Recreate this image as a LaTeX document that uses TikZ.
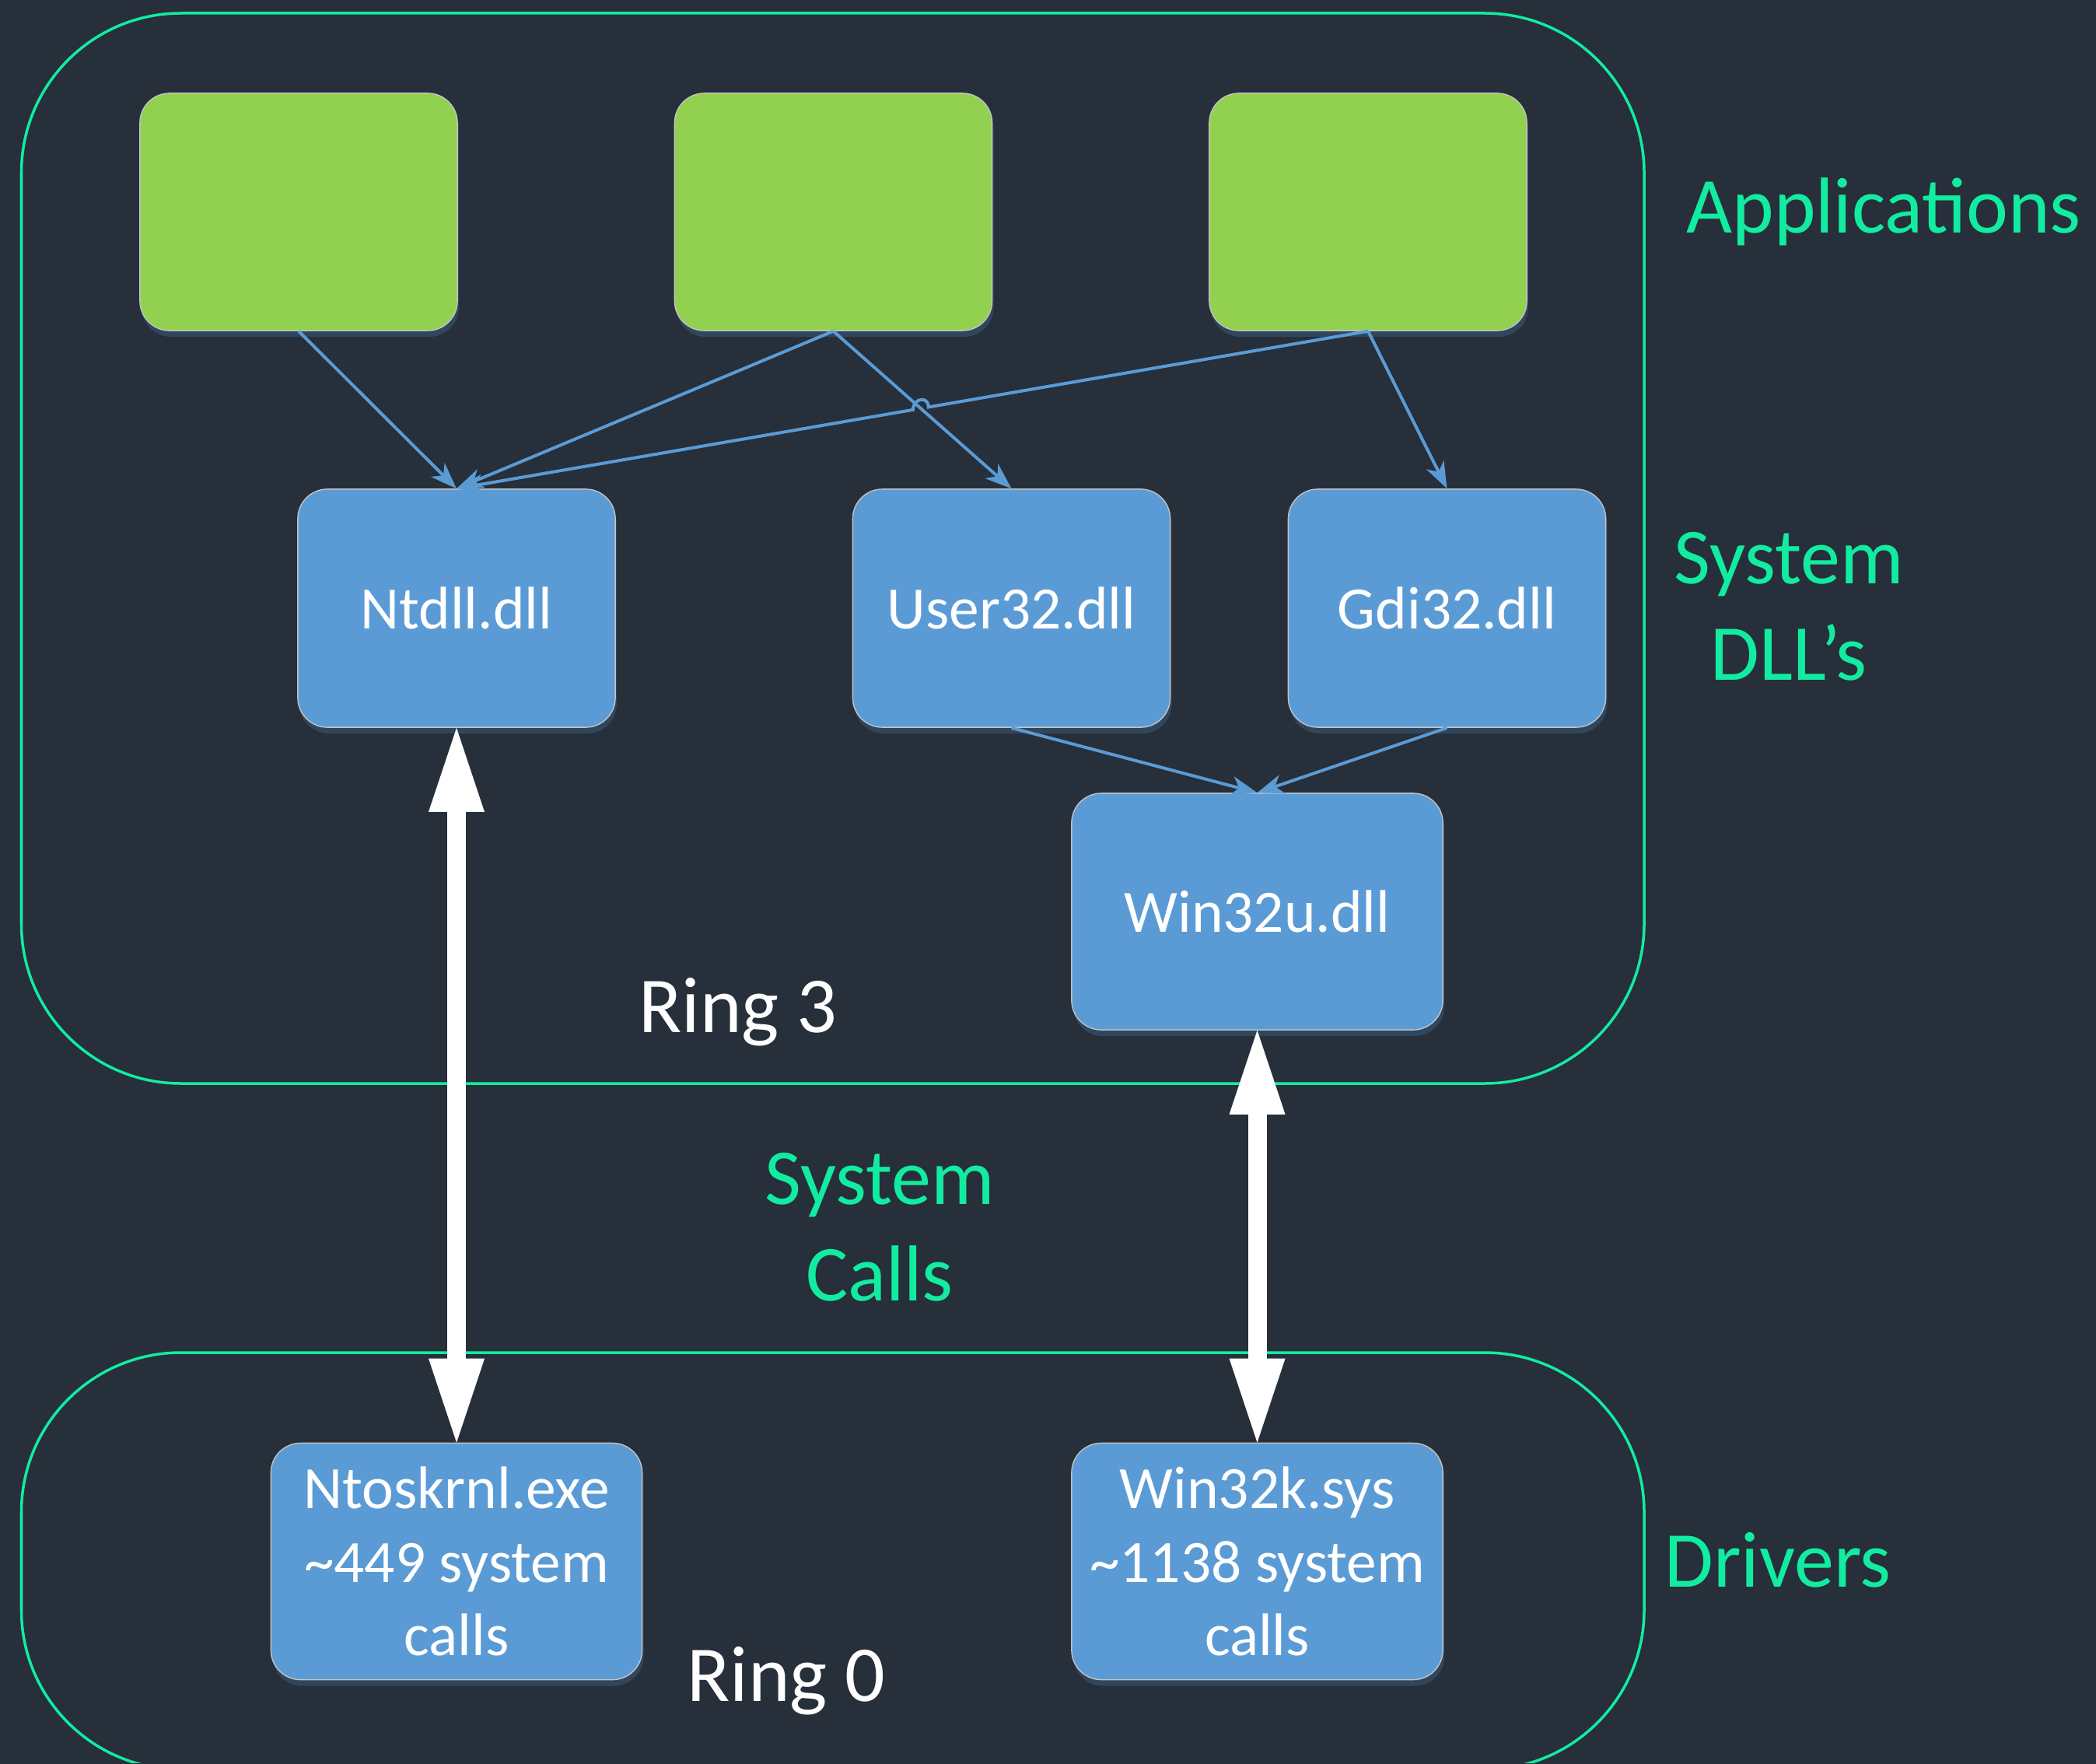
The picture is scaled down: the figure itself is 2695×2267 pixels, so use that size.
\documentclass[tikz,border=0pt]{standalone}
\usepackage{fontspec}
\setmainfont{Carlito}
\usetikzlibrary{arrows.meta,calc,shadows}
\definecolor{bgc}{RGB}{38,47,58}
\definecolor{ringc}{RGB}{18,236,160}
\definecolor{appgreen}{RGB}{146,208,80}
\definecolor{dllblue}{RGB}{91,155,213}
\definecolor{shadowc}{RGB}{48,70,92}
\definecolor{edgegray}{RGB}{195,195,195}
\begin{document}
\begin{tikzpicture}[x=0.01cm,y=-0.01cm,
  box/.style={draw=edgegray, line width=0.4pt, rounded corners=0.38cm, inner sep=0pt,
    drop shadow={shadow xshift=0.02cm, shadow yshift=-0.08cm, fill=shadowc, opacity=1}},
  app/.style={box, fill=appgreen, minimum width=4.08cm, minimum height=3.05cm},
  dll/.style={box, fill=dllblue, text=white, font=\fontsize{22}{26.8}\selectfont,
    align=center, minimum width=4.08cm, minimum height=3.06cm},
  widebox/.style={dll, minimum width=4.77cm, minimum height=3.04cm},
  ring/.style={draw=ringc, line width=0.035cm, rounded corners=2.05cm},
  lbl/.style={text=ringc, font=\fontsize{29}{35.4}\selectfont, align=center, inner sep=0pt},
  ringlbl/.style={text=white, font=\fontsize{29}{35.4}\selectfont, inner sep=0pt},
  link/.style={draw=dllblue, line width=0.04cm, -{Stealth[length=0.34cm,width=0.25cm,inset=0.1cm]}},
  syscall/.style={draw=white, line width=0.24cm,
    {Triangle[length=1.08cm,width=0.72cm,line width=0pt]}-{Triangle[length=1.08cm,width=0.72cm,line width=0pt]}}
]
\useasboundingbox (0,0) rectangle (2695,2267);
\fill[bgc] (-20,-20) rectangle (2715,2287);

% rings
\draw[ring] (27.5,17) rectangle (2114,1393);
\begin{scope}
\clip (-20,-20) rectangle (2715,2266);
\draw[ring] (27.5,1739) rectangle (2114,2275);
\end{scope}

% applications
\node[app] (app1) at (384,272.5) {};
\node[app] (app2) at (1071.5,272.5) {};
\node[app] (app3) at (1759,272.5) {};

% system dlls
\node[dll] (ntdll) at (587,782) {Ntdll.dll};
\node[dll] (user32) at (1300.5,782) {User32.dll};
\node[dll] (gdi32) at (1860.5,782) {Gdi32.dll};
\node[widebox] (win32u) at (1616.5,1172) {Win32u.dll};

% kernel
\node[widebox] (ntos) at (587,2007.5) {Ntoskrnl.exe\\\textasciitilde449 system\\calls};
\node[widebox] (win32k) at (1616.5,2007.5) {Win32k.sys\\\textasciitilde1138 system\\calls};

% labels
\node[lbl] (lapp) at (2422,272) {Applications};
\node[lbl] (ldll) at (2300,780) {System\\DLL’s};
\node[lbl] (lsys) at (1131,1578) {System\\Calls};
\node[lbl] (ldrv) at (2286,2006) {Drivers};
\node[ringlbl] (lr3) at (949,1301) {Ring 3};
\node[ringlbl] (lr0) at (1011,2161) {Ring 0};

% connectors
\draw[link] (app1.south) -- (ntdll.north);
\draw[link] (app2.south) -- (ntdll.north);
\draw[link] (app2.south) -- (user32.north);
\coordinate (X) at (intersection of app2.south--user32.north and app3.south--ntdll.north);
\coordinate (h1) at ($(X)!0.1cm!(app3.south)$);
\coordinate (h2) at ($(X)!0.1cm!(ntdll.north)$);
\draw[link] (app3.south) -- (h1) .. controls ($(h1)+(0,-15)$) and ($(h2)+(0,-15)$) .. (h2) -- (ntdll.north);
\draw[link] (app3.south) -- (gdi32.north);
\draw[link] (user32.south) -- (win32u.north);
\draw[link] (gdi32.south) -- (win32u.north);

% system calls
\draw[syscall] (ntdll.south) -- (ntos.north);
\draw[syscall] (win32u.south) -- (win32k.north);
\end{tikzpicture}
\end{document}
